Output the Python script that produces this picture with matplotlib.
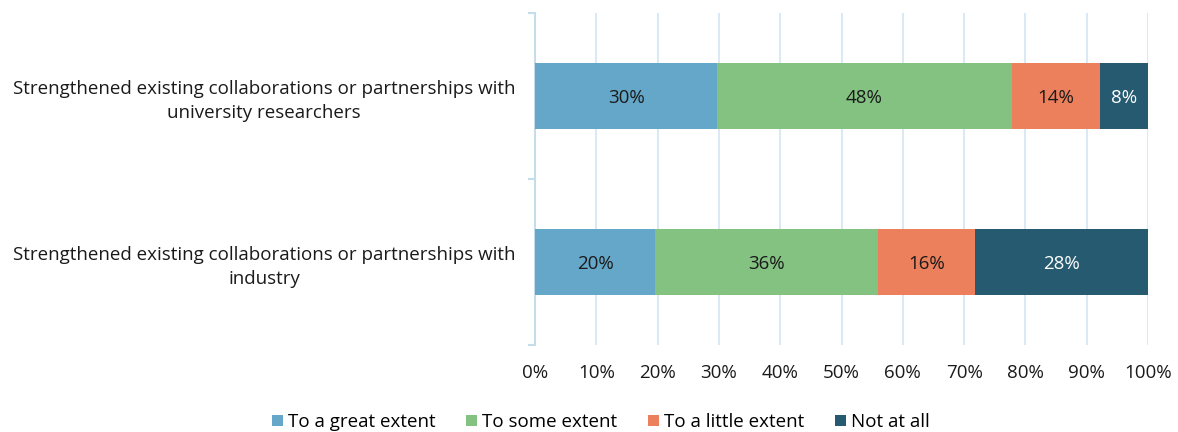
import matplotlib.pyplot as plt
from matplotlib.ticker import FixedLocator, PercentFormatter

plt.rcParams["font.family"] = ["Open Sans", "DejaVu Sans"]

# %% Data

categories = [
    "Strengthened existing collaborations or partnerships with\nindustry",
    "Strengthened existing collaborations or partnerships with\nuniversity researchers",
]
series_names = ["To a great extent", "To some extent", "To a little extent", "Not at all"]
# percentages per series, order matches categories (bottom, top)
great = [19.6, 29.7]
some = [36.4, 48.1]
little = [15.7, 14.4]
not_at_all = [28.3, 7.8]

colors = ["#65A7C8", "#84C282", "#EC7F5C", "#265A70"]
text_colors = ["#1a1a1a", "#1a1a1a", "#1a1a1a", "white"]

# %% Plot

fig = plt.figure(figsize=(11.78, 4.32), dpi=100)
ax = fig.add_axes([0.4542, 0.2014, 0.5203, 0.7686])

left = [0.0] * len(categories)
for name, vals, col, tcol in zip(series_names, [great, some, little, not_at_all], colors, text_colors):
    bars = ax.barh(range(len(categories)), vals, left=left, height=0.4,
                   color=col, label=name, zorder=3)
    for b, v in zip(bars, vals):
        ax.text(b.get_x() + b.get_width() / 2, b.get_y() + b.get_height() / 2 - 0.01,
                f"{v:.0f}%", ha="center", va="center", fontsize=13.5, color=tcol, zorder=4)
    left = [l + v for l, v in zip(left, vals)]

ax.set_xlim(0, 100)
ax.set_ylim(-0.5, 1.5)
ax.set_xticks(range(0, 101, 10))
ax.xaxis.set_major_formatter(PercentFormatter(decimals=0))
ax.set_yticks(range(len(categories)))
ax.set_yticklabels(categories, ha="center", multialignment="center", linespacing=1.45)
ax.yaxis.set_minor_locator(FixedLocator([-0.5, 0.5, 1.5]))

ax.tick_params(axis="x", length=0, labelsize=13.5, pad=14, labelcolor="#1a1a1a")
ax.tick_params(axis="y", which="major", length=0, labelsize=13.5, pad=195, labelcolor="#1a1a1a")
ax.tick_params(axis="y", which="minor", length=5, width=1.5, color="#C5DCEB")

ax.grid(axis="x", color="#DAE9F4", linewidth=1.5, zorder=0)
for s in ["top", "right", "bottom"]:
    ax.spines[s].set_visible(False)
ax.spines["left"].set_color("#C5DCEB")
ax.spines["left"].set_linewidth(1.5)

fig.legend(loc="lower center", bbox_to_anchor=(0.51, -0.037), ncol=4, frameon=False,
           fontsize=13.5, handlelength=0.6, handleheight=0.6, handletextpad=0.25,
           columnspacing=1.65)

fig.savefig("out.png", dpi=100)
